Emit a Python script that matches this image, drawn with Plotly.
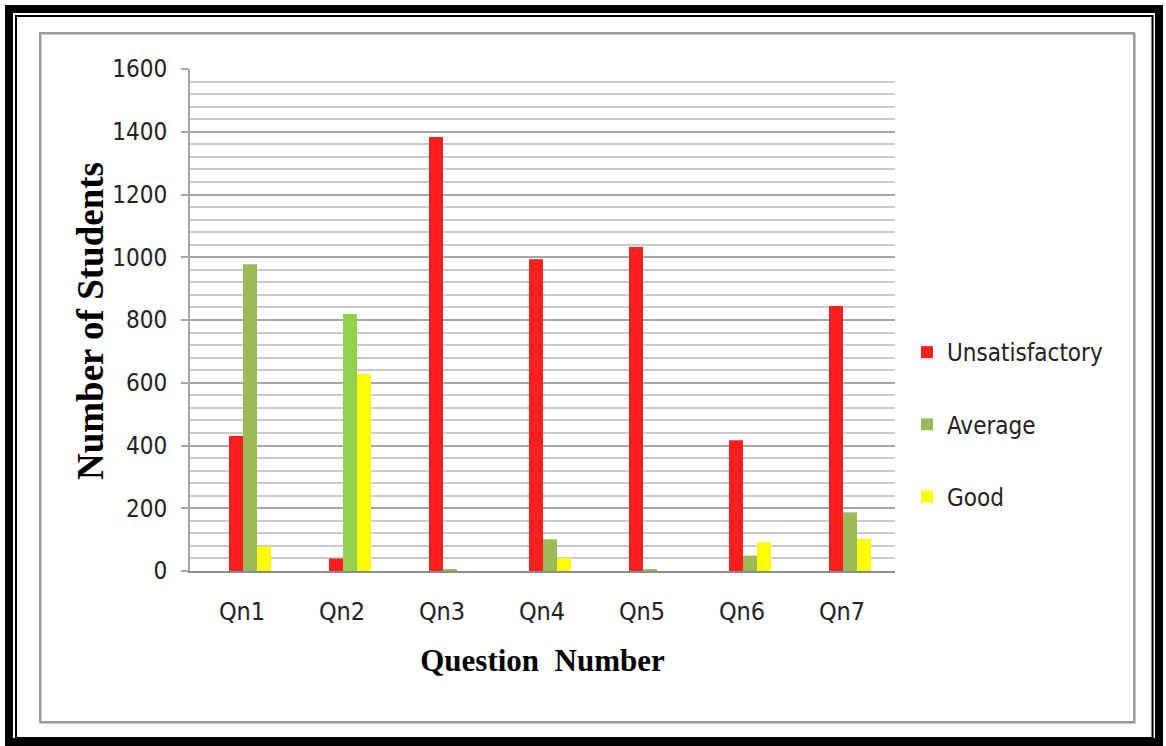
import plotly.graph_objects as go

categories = ["Qn1", "Qn2", "Qn3", "Qn4", "Qn5", "Qn6", "Qn7"]
unsatisfactory = [430, 40, 1383, 994, 1033, 417, 845]
average = [978, 819, 6, 101, 5, 49, 187]
good = [78, 628, 0, 41, 0, 92, 102]

series_names = ["Unsatisfactory", "Average", "Good"]
red = "#FF1F1F"
olive = "#9BBB59"
bright_green = "#92D050"
yellow = "#FFFF00"
average_colors = [olive, bright_green, olive, olive, olive, olive, olive]

W, H = 1166, 746
L, R, T, B = 190, 895, 69, 571
NARROW = "Liberation Sans Narrow, Arial Narrow, DejaVu Sans Condensed, sans-serif"
SERIF = "Liberation Serif, Times New Roman, serif"


def px(x):
    return (x - L) / (R - L)


def py(y):
    return (B - y) / (B - T)


fig = go.Figure()
fig.add_trace(go.Bar(x=categories, y=unsatisfactory, name=series_names[0],
                     marker=dict(color=red, line=dict(width=0)), legendgroup="a"))
fig.add_trace(go.Bar(x=categories, y=average, name=series_names[1],
                     marker=dict(color=average_colors, line=dict(width=0)), legendgroup="b"))
fig.add_trace(go.Bar(x=categories, y=good, name=series_names[2],
                     marker=dict(color=yellow, line=dict(width=0)), legendgroup="c"))

shapes = [
    dict(type="rect", xref="paper", yref="paper",
         x0=px(9), x1=px(1159), y0=py(9), y1=py(742),
         line=dict(color="black", width=8), fillcolor="rgba(0,0,0,0)", layer="below"),
    dict(type="rect", xref="paper", yref="paper",
         x0=px(16), x1=px(1152.5), y0=py(16), y1=py(738),
         line=dict(color="black", width=2), fillcolor="rgba(0,0,0,0)", layer="below"),
    dict(type="rect", xref="paper", yref="paper",
         x0=px(41), x1=px(1135), y0=py(34), y1=py(723),
         line=dict(color="#c8c8c8", width=2), fillcolor="rgba(0,0,0,0)", layer="below"),
    dict(type="rect", xref="paper", yref="paper",
         x0=px(40), x1=px(1134), y0=py(33), y1=py(722),
         line=dict(color="#9a9a9a", width=2), fillcolor="rgba(0,0,0,0)", layer="below"),
]

annotations = [
    dict(text="<b>Number of Students</b>", xref="paper", yref="paper",
         x=px(90), y=py(321), xanchor="center", yanchor="middle",
         textangle=-90, showarrow=False,
         font=dict(size=37, family=SERIF, color="black")),
]

fig.update_layout(
    width=W, height=H,
    margin=dict(l=L, r=W - R, t=T, b=H - B, autoexpand=False),
    paper_bgcolor="white", plot_bgcolor="white",
    barmode="group", bargap=0.58, bargroupgap=0.0,
    font=dict(family=NARROW, color="#222222"),
    shapes=shapes,
    annotations=annotations,
    showlegend=True,
    legend=dict(x=px(907), y=py(330), xanchor="left", yanchor="top",
                font=dict(size=24, family=NARROW, color="#222"),
                traceorder="grouped", tracegroupgap=38,
                bgcolor="rgba(0,0,0,0)", itemwidth=30),
    xaxis=dict(
        range=[-0.6, 6.45],
        showline=True, linecolor="#8c8c8c", linewidth=2,
        ticks="", tickfont=dict(size=25, family=NARROW, color="#222"),
        ticklabelstandoff=17, ticklabelshift=-8,
        title=dict(text="Question  Number",
                   font=dict(size=31, family=SERIF, color="black", weight="bold"),
                   standoff=24),
        fixedrange=True,
    ),
    yaxis=dict(
        range=[0, 1600], dtick=200, tick0=0,
        showline=True, linecolor="#a6a6a6", linewidth=2,
        ticks="outside", ticklen=7, tickcolor="#a6a6a6", tickwidth=2,
        showgrid=True, gridcolor="#a6a6a6", gridwidth=2,
        zeroline=False,
        minor=dict(dtick=40, showgrid=True, gridcolor="#cccccc", gridwidth=2, ticks=""),
        tickfont=dict(size=24, family=NARROW, color="#222"),
        ticklabelstandoff=9,
    ),
)

fig.write_html("out.html", config={"displayModeBar": False},
               post_script="document.body.style.margin='0';document.body.style.overflow='hidden';")
